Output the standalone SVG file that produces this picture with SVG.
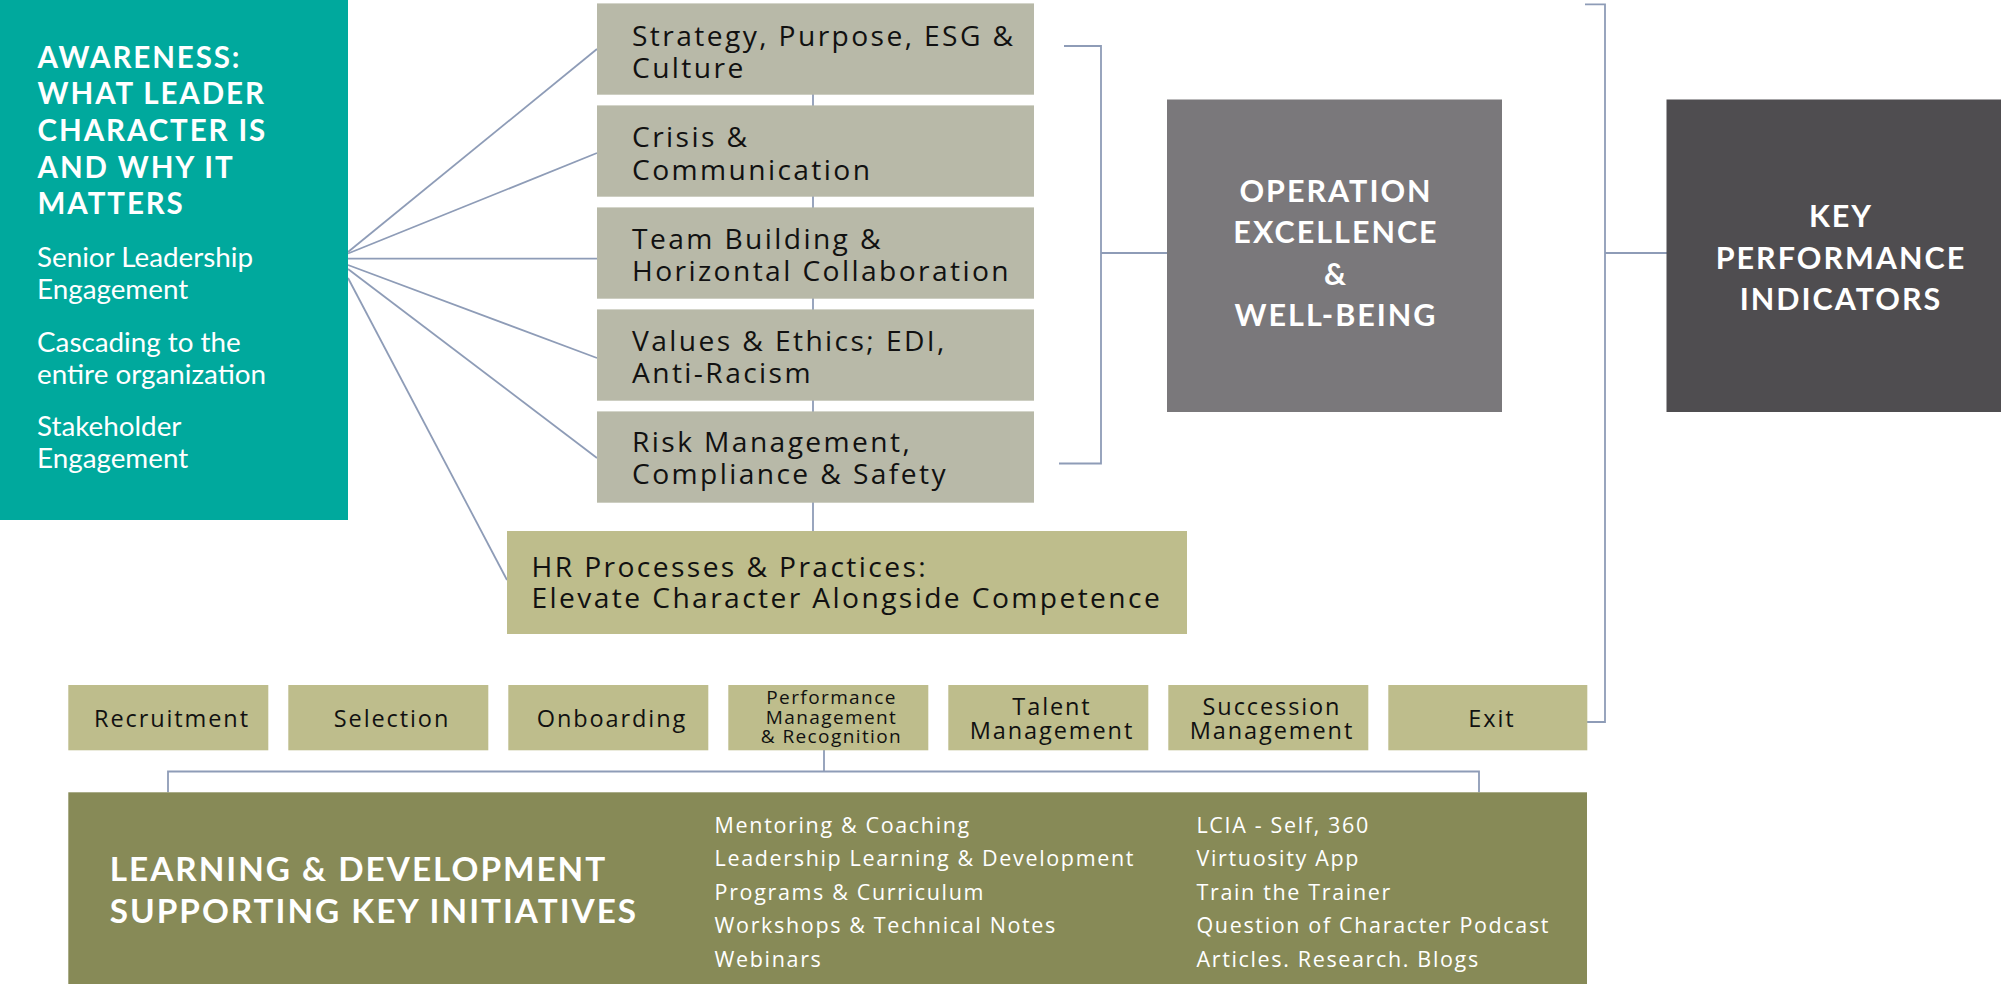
<svg xmlns="http://www.w3.org/2000/svg" width="2001" height="996" viewBox="0 0 2001 996">
<style>
.ln{fill:none;stroke:#8e9cb7;stroke-width:1.8}
.ttl{font-family:Lato,"Liberation Sans",sans-serif;font-weight:700;font-size:29.5px;letter-spacing:1.9px;fill:#fff}
.tb{font-family:Lato,"Liberation Sans",sans-serif;font-size:27.8px;fill:#fff}
.gt{font-family:"Open Sans","DejaVu Sans",sans-serif;font-size:28.2px;letter-spacing:2.4px;fill:#111}
.oe{font-family:Lato,"Liberation Sans",sans-serif;font-weight:700;font-size:30.5px;letter-spacing:2px;fill:#fff;text-anchor:middle}
.bt{font-family:"Open Sans","DejaVu Sans",sans-serif;font-size:23.5px;letter-spacing:1.9px;fill:#111;text-anchor:middle}
.bt3{font-family:"Open Sans","DejaVu Sans",sans-serif;font-size:19px;letter-spacing:1.4px;fill:#111;text-anchor:middle}
.ldt{font-family:Lato,"Liberation Sans",sans-serif;font-weight:700;font-size:33.3px;letter-spacing:2px;fill:#fff}
.ldl{font-family:"Open Sans","DejaVu Sans",sans-serif;font-size:21.5px;letter-spacing:1.65px;fill:#fff}
.gbox{fill:#b8b9a8}
.obox{fill:#bebd8c}
</style>
<g id="connectors">
<line class="ln" x1="348" y1="252" x2="597" y2="49"/>
<line class="ln" x1="348" y1="253.5" x2="597" y2="153"/>
<line class="ln" x1="348" y1="258.6" x2="597" y2="258.6"/>
<line class="ln" x1="348" y1="265" x2="597" y2="358"/>
<line class="ln" x1="348" y1="269" x2="597" y2="458"/>
<line class="ln" x1="348" y1="278" x2="507" y2="580"/>
<line class="ln" x1="813" y1="49" x2="813" y2="531"/>
<path class="ln" d="M1064,46 H1101 V463.5 H1059 M1101,253 H1167"/>
<path class="ln" d="M1585,4.3 H1605 V722 H1587 M1605,253 H1667"/>
<path class="ln" d="M824,750 V771.5 M168,792.3 V771.5 H1479 V792.3"/>
</g>
<g id="awareness">
<rect x="0" y="0" width="348" height="520" fill="#00a99d"/>
<text class="ttl" x="37.6" y="67.6">AWARENESS:</text>
<text class="ttl" x="37.6" y="104.3">WHAT LEADER</text>
<text class="ttl" x="37.6" y="141">CHARACTER IS</text>
<text class="ttl" x="37.6" y="177.7">AND WHY IT</text>
<text class="ttl" x="37.6" y="214.4">MATTERS</text>
<text class="tb" x="37" y="267">Senior Leadership</text>
<text class="tb" x="37" y="299">Engagement</text>
<text class="tb" x="37" y="351.5">Cascading to the</text>
<text class="tb" x="37" y="383.6">entire organization</text>
<text class="tb" x="37" y="436">Stakeholder</text>
<text class="tb" x="37" y="468">Engagement</text>
</g>
<g id="strategy">
<rect class="gbox" x="597" y="3.4" width="437" height="91.3"/>
<text class="gt" x="632" y="45.5">Strategy, Purpose, ESG &amp;</text>
<text class="gt" x="632" y="77.7">Culture</text>
</g>
<g id="crisis">
<rect class="gbox" x="597" y="105.4" width="437" height="91.3"/>
<text class="gt" x="632" y="147">Crisis &amp;</text>
<text class="gt" x="632" y="179.5">Communication</text>
</g>
<g id="team">
<rect class="gbox" x="597" y="207.4" width="437" height="91.3"/>
<text class="gt" x="632" y="249">Team Building &amp;</text>
<text class="gt" x="632" y="281">Horizontal Collaboration</text>
</g>
<g id="values">
<rect class="gbox" x="597" y="309.4" width="437" height="91.3"/>
<text class="gt" x="632" y="350.5">Values &amp; Ethics; EDI,</text>
<text class="gt" x="632" y="383">Anti-Racism</text>
</g>
<g id="risk">
<rect class="gbox" x="597" y="411.4" width="437" height="91.3"/>
<text class="gt" x="632" y="451.5">Risk Management,</text>
<text class="gt" x="632" y="484">Compliance &amp; Safety</text>
</g>
<g id="hr">
<rect class="obox" x="507" y="531" width="680" height="103"/>
<text class="gt" x="531.5" y="577">HR Processes &amp; Practices:</text>
<text class="gt" x="531.5" y="608">Elevate Character Alongside Competence</text>
</g>
<g id="operation">
<rect x="1167" y="99.5" width="335" height="312.5" fill="#7a787b"/>
<text class="oe" x="1336" y="202">OPERATION</text>
<text class="oe" x="1336" y="243">EXCELLENCE</text>
<text class="oe" x="1336" y="285">&amp;</text>
<text class="oe" x="1336" y="326">WELL-BEING</text>
</g>
<g id="kpi">
<rect x="1666.5" y="99.5" width="340" height="312.5" fill="#4f4d50"/>
<text class="oe" x="1841" y="226.5">KEY</text>
<text class="oe" x="1841" y="268.7">PERFORMANCE</text>
<text class="oe" x="1841" y="310">INDICATORS</text>
</g>
<g id="recruitment">
<rect class="obox" x="68.3" y="685" width="200" height="65.3"/>
<text class="bt" x="172" y="727">Recruitment</text>
</g>
<g id="selection">
<rect class="obox" x="288.3" y="685" width="200" height="65.3"/>
<text class="bt" x="392" y="727">Selection</text>
</g>
<g id="onboarding">
<rect class="obox" x="508.3" y="685" width="200" height="65.3"/>
<text class="bt" x="612" y="727">Onboarding</text>
</g>
<g id="performance">
<rect class="obox" x="728.3" y="685" width="200" height="65.3"/>
<text class="bt3" x="831.5" y="704">Performance</text>
<text class="bt3" x="831.5" y="723.5">Management</text>
<text class="bt3" x="831.5" y="742.5">&amp; Recognition</text>
</g>
<g id="talent">
<rect class="obox" x="948.3" y="685" width="200" height="65.3"/>
<text class="bt" x="1052" y="714.8">Talent</text>
<text class="bt" x="1052" y="738.7">Management</text>
</g>
<g id="succession">
<rect class="obox" x="1168.3" y="685" width="200" height="65.3"/>
<text class="bt" x="1272" y="714.8">Succession</text>
<text class="bt" x="1272" y="738.7">Management</text>
</g>
<g id="exit">
<rect class="obox" x="1388.3" y="685" width="199" height="65.3"/>
<text class="bt" x="1492" y="727">Exit</text>
</g>
<g id="learning">
<rect x="68.3" y="792.3" width="1518.7" height="191.7" fill="#878a57"/>
<text class="ldt" x="109.7" y="881">LEARNING &amp; DEVELOPMENT</text>
<text class="ldt" x="109.7" y="922.7">SUPPORTING KEY INITIATIVES</text>
<text class="ldl" x="714.6" y="833">Mentoring &amp; Coaching</text>
<text class="ldl" x="714.6" y="866.4">Leadership Learning &amp; Development</text>
<text class="ldl" x="714.6" y="899.8">Programs &amp; Curriculum</text>
<text class="ldl" x="714.6" y="933.2">Workshops &amp; Technical Notes</text>
<text class="ldl" x="714.6" y="966.6">Webinars</text>
<text class="ldl" x="1196.5" y="833">LCIA - Self, 360</text>
<text class="ldl" x="1196.5" y="866.4">Virtuosity App</text>
<text class="ldl" x="1196.5" y="899.8">Train the Trainer</text>
<text class="ldl" x="1196.5" y="933.2">Question of Character Podcast</text>
<text class="ldl" x="1196.5" y="966.6">Articles. Research. Blogs</text>
</g>
</svg>
